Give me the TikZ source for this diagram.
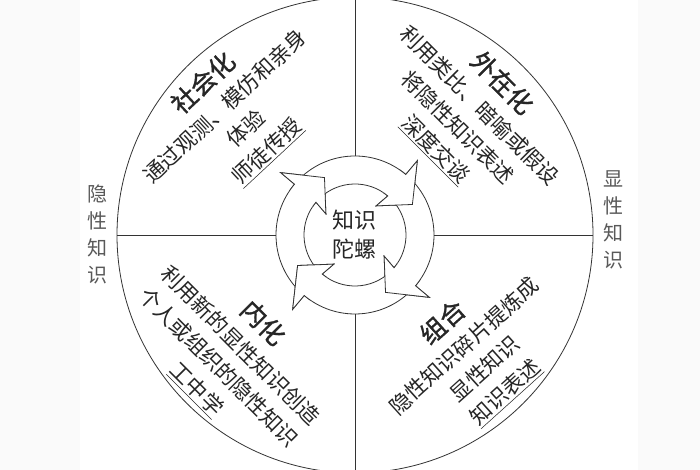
\documentclass[tikz,border=0pt]{standalone}
\usepackage{fontspec}
\setmainfont{Noto Sans CJK SC}
\newfontfamily\cjkbold{Noto Sans CJK SC}[FakeBold=1.2]
% one block arrow of the spinning ring, head base at angle #1
\newcommand{\ringarrow}[1]{(#1+84:79) arc[start angle=#1+84,end angle=#1,radius=79] -- (#1:97) -- (#1-22:65) -- (#1+4:36) -- (#1:51) arc[start angle=#1,end angle=#1+84,radius=51] -- (#1+72:65) -- cycle}
\begin{document}
\begin{tikzpicture}[x=0.75pt,y=0.75pt,line width=0.6pt,color=black!80,
  quad/.style={align=center,text=black!85,font=\fontsize{16}{23}\selectfont},
  side/.style={align=center,text=black!65,font=\fontsize{15}{20.25}\selectfont}]
\useasboundingbox[fill=white](0,0)rectangle(700,470);
\fill[black!2](0,0)rectangle(80,470);
\fill[black!2](638,0)rectangle(700,470);
\begin{scope}[shift={(355,235)}]
\draw(0,0)circle[radius=238];
\draw(0:79)--(0:238);
\draw(90:79)--(90:238);
\draw(180:79)--(180:238);
\draw(270:79)--(270:238);
\foreach \a in {140,50,-40,-130}
  \filldraw[fill=white]\ringarrow{\a};
% heads back on top of the tails
\foreach \a in {140,50,-40,-130}{
  \begin{scope}
  \clip(0,0)--(\a-30:110)arc[start angle=\a-30,end angle=\a+6,radius=110]--cycle;
  \filldraw[fill=white]\ringarrow{\a};
  \end{scope}}
\node[align=center,text=black!85,font=\fontsize{16.5}{21.75}\selectfont](gyro)at(-1,0){知识\\陀螺};
\end{scope}
\node[quad,rotate=43](social)at(235,353){{\cjkbold\fontsize{19}{23}\selectfont 社会化}\\通过观测、模仿和亲身\\体验\\\underline{师徒传授}};
\node[quad,rotate=-45](external)at(469,354){{\cjkbold\fontsize{19}{23}\selectfont 外在化}\\利用类比、暗喻或假设\\将隐性知识表述\\\underline{深度交谈}};
\node[quad,rotate=-45](internal)at(230,114){{\cjkbold\fontsize{19}{23}\selectfont 内化}\\利用新的显性知识创造\\个人或组织的隐性知识\\\underline{工中学}};
\node[quad,rotate=42](combine)at(474,113){{\cjkbold\fontsize{19}{23}\selectfont 组合}\\隐性知识碎片提炼成\\显性知识\\\underline{知识表述}};
\node[side](tacit)at(97,236){隐\\性\\知\\识};
\node[side](explicit)at(613,250){显\\性\\知\\识};
\end{tikzpicture}
\end{document}
